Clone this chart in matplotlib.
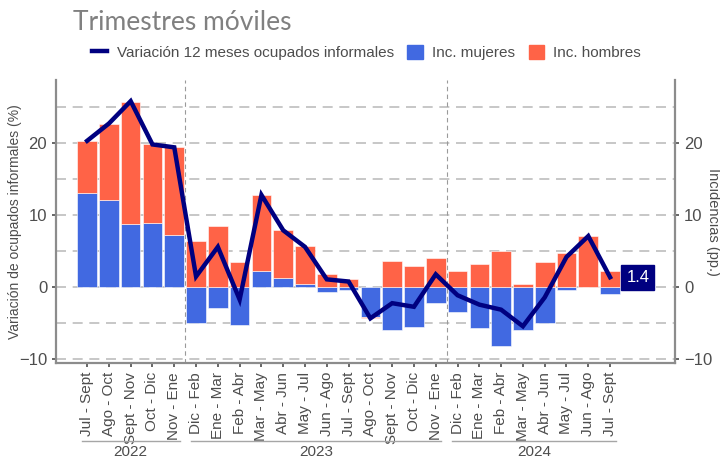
import matplotlib
matplotlib.use("Agg")
import matplotlib.pyplot as plt
import matplotlib.patches as mpatches
from matplotlib.lines import Line2D
import numpy as np

plt.rcParams["font.family"] = ["Liberation Sans", "DejaVu Sans"]

# Trimestres moviles
periodos = ["Jul - Sept", "Ago - Oct", "Sept - Nov", "Oct - Dic", "Nov - Ene",
            "Dic - Feb", "Ene - Mar", "Feb - Abr", "Mar - May", "Abr - Jun",
            "May - Jul", "Jun - Ago", "Jul - Sept", "Ago - Oct", "Sept - Nov",
            "Oct - Dic", "Nov - Ene",
            "Dic - Feb", "Ene - Mar", "Feb - Abr", "Mar - May", "Abr - Jun",
            "May - Jul", "Jun - Ago", "Jul - Sept"]
anios = ["2022"] * 5 + ["2023"] * 12 + ["2024"] * 8

inc_mujeres = [13.1, 12.1, 8.8, 8.9, 7.3,
               -4.9, -2.9, -5.2, 2.2, 1.25, 0.4, -0.7, -0.4, -4.1, -5.9, -5.55, -2.2,
               -3.4, -5.6, -8.2, -5.85, -4.9, -0.4, 0.05, -0.9]
inc_hombres = [7.2, 10.5, 16.9, 10.9, 12.1,
               6.4, 8.5, 3.5, 10.6, 6.65, 5.3, 1.8, 1.1, -0.2, 3.65, 2.9, 4.0,
               2.3, 3.25, 5.1, 0.5, 3.5, 4.7, 7.05, 2.3]
variacion = [20.3, 22.7, 25.8, 19.8, 19.4,
             1.5, 5.6, -1.7, 12.8, 7.9, 5.6, 1.1, 0.8, -4.3, -2.2, -2.7, 1.8,
             -1.1, -2.4, -3.1, -5.4, -1.4, 4.2, 7.1, 1.4]
ultimo_valor = "1.4"

azul = "#4169E1"
rojo = "#FF6347"
navy = "#000080"
gris_txt = "#4D4D4D"
gris_eje = "#8C8C8C"

x = np.arange(len(periodos))
muj = np.array(inc_mujeres)
hom = np.array(inc_hombres)

fig = plt.figure(figsize=(7.2, 4.59), dpi=100)
ax = fig.add_axes([0.078, 0.209, 0.8595, 0.617])

# stacked bars, positives and negatives stacked separately
bottom_h = np.where(np.sign(hom) == np.sign(muj), muj, 0)
ax.bar(x, muj, width=0.9, color=azul, edgecolor="white", linewidth=0.4, zorder=2)
ax.bar(x, hom, width=0.9, bottom=bottom_h, color=rojo, edgecolor="white", linewidth=0.4, zorder=2)

ax.plot(x, variacion, color=navy, linewidth=3.2, zorder=4, solid_joinstyle="miter")

# last value label
ax.text(x[-1] + 0.75, variacion[-1], ultimo_valor, color="white", fontsize=12,
        ha="left", va="center", zorder=5,
        bbox=dict(boxstyle="square,pad=0.3", fc=navy, ec=navy))

# grid
for yv in np.arange(-10, 30, 5):
    ax.axhline(yv, color="#BEBEBE", linewidth=1.2, linestyle=(0, (6, 4)), zorder=1)
for xv in [4.5, 16.5]:
    ax.axvline(xv, color="#9A9A9A", linewidth=0.8, linestyle=(0, (4, 3)), zorder=1)

ax.set_xlim(-1.42, 26.98)
ax.set_ylim(-10.5, 28.75)
ax.set_yticks([-10, 0, 10, 20])
ax.set_xticks(x)
ax.set_xticklabels(periodos, rotation=90, fontsize=11, color=gris_txt)
ax.tick_params(axis="y", labelsize=12, colors=gris_txt, length=3, width=1.2)
ax.tick_params(axis="x", length=3, width=1.2, colors=gris_txt)
for s in ["top", "right"]:
    ax.spines[s].set_visible(False)
for s in ["left", "bottom"]:
    ax.spines[s].set_color(gris_eje)
    ax.spines[s].set_linewidth(1.6)
ax.set_ylabel("Variación de ocupados informales (%)", fontsize=10, color=gris_txt, va="center")
ax.yaxis.set_label_coords(-0.066, 0.5)

ax2 = ax.twinx()
ax2.set_ylim(ax.get_ylim())
ax2.set_yticks([-10, 0, 10, 20])
ax2.tick_params(axis="y", labelsize=12, colors=gris_txt, length=3, width=1.2)
for s in ["top", "left", "bottom"]:
    ax2.spines[s].set_visible(False)
ax2.spines["right"].set_color(gris_eje)
ax2.spines["right"].set_linewidth(1.6)
ax2.set_ylabel("Incidencias (pp.)", fontsize=10.5, color=gris_txt, rotation=270, va="center")
ax2.yaxis.set_label_coords(1.062, 0.5)

# year groups below the tick labels
trans = ax.get_xaxis_transform()
for anio in ["2022", "2023", "2024"]:
    idx = [i for i, a in enumerate(anios) if a == anio]
    x0, x1 = idx[0] - 0.25, idx[-1] + 0.25
    ax.plot([x0, x1], [-0.276, -0.276], transform=trans, color="#A6A6A6",
            linewidth=1.0, clip_on=False)
    ax.text((x0 + x1) / 2, -0.313, anio, transform=trans, ha="center", va="center",
            fontsize=11, color=gris_txt)

# subtitle
fig.text(0.102, 0.952, "Trimestres móviles", fontsize=19, color="#808080",
         ha="left", va="center", family=["Lato", "DejaVu Sans"])

handles = [Line2D([0], [0], color=navy, linewidth=3.2),
           mpatches.Patch(color=azul), mpatches.Patch(color=rojo)]
labels = ["Variación 12 meses ocupados informales", "Inc. mujeres", "Inc. hombres"]
leg = fig.legend(handles, labels, loc="center", bbox_to_anchor=(0.509, 0.886), ncol=3,
                 frameon=False, fontsize=11, handlelength=1.0, handleheight=1.1,
                 handletextpad=0.6, columnspacing=0.9)
for t in leg.get_texts():
    t.set_color(gris_txt)

plt.savefig("out.png", dpi=100)
